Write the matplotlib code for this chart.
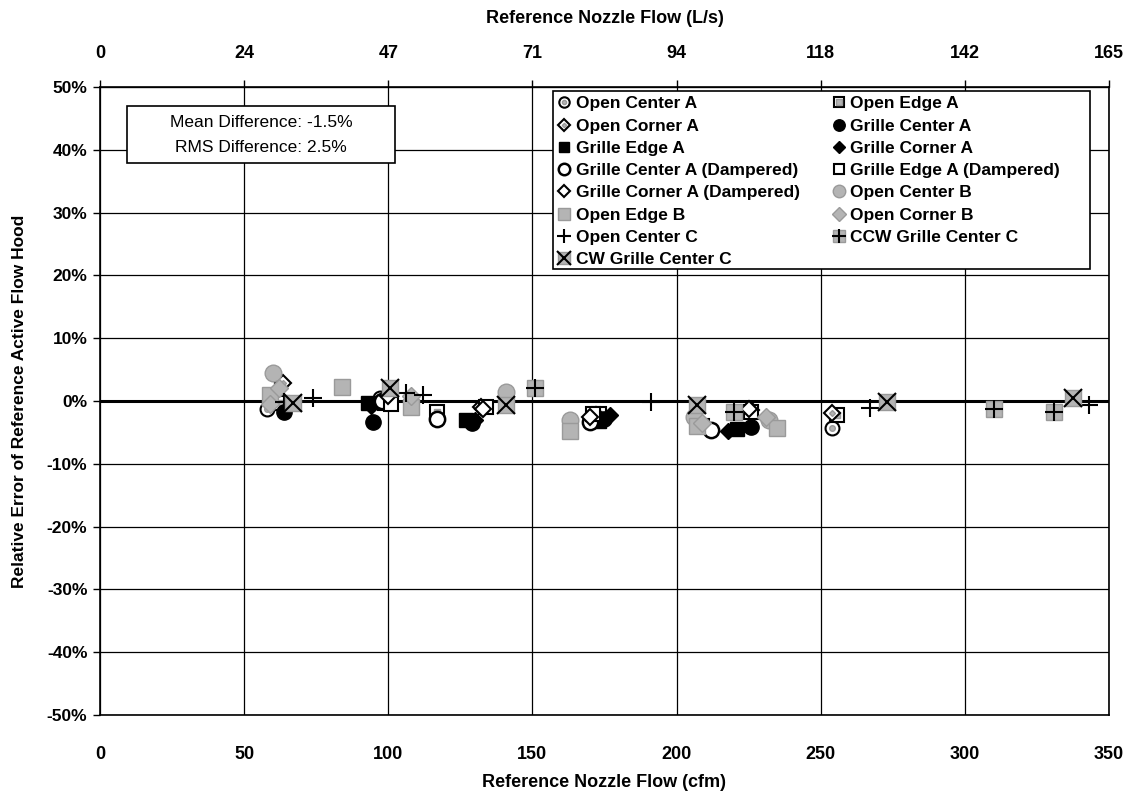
import matplotlib.pyplot as plt
from matplotlib.legend_handler import HandlerTuple
from matplotlib.patches import Rectangle

plt.rcParams['font.family'] = ['Liberation Sans', 'DejaVu Sans']

# x = reference nozzle flow (cfm), y = relative error of the flow hood (%)
open_center_a_x = [58, 97, 117, 170, 254]
open_center_a_y = [-1.2, 0.5, -2.6, -2.8, -4.3]
open_edge_a_x = [63, 99, 117, 173, 209, 255.6]
open_edge_a_y = [-0.3, -0.3, -1.8, -2.0, -4.0, -2.2]
open_corner_a_x = [63.5, 99, 132, 172, 226, 254]
open_corner_a_y = [2.9, 0.5, -1.0, -2.3, -1.4, -1.9]
grille_center_a_x = [64, 94.7, 129, 175, 226]
grille_center_a_y = [-1.8, -3.3, -3.5, -2.8, -4.1]
grille_edge_a_x = [93, 127, 173, 221]
grille_edge_a_y = [-0.3, -3.0, -3.2, -4.5]
grille_corner_a_x = [94, 130, 177, 218]
grille_corner_a_y = [-0.8, -3.0, -2.2, -4.8]
grille_center_a_d_x = [98, 117, 170, 212]
grille_center_a_d_y = [0.0, -2.8, -3.3, -4.6]
grille_edge_a_d_x = [101, 134, 171, 226]
grille_edge_a_d_y = [-0.5, -1.0, -2.0, -1.8]
grille_corner_a_d_x = [100, 133, 170, 225]
grille_corner_a_d_y = [0.8, -1.2, -2.5, -1.2]
open_center_b_x = [60, 141, 163, 206, 232]
open_center_b_y = [4.5, 1.5, -3.0, -2.5, -3.0]
open_edge_b_x = [59, 84, 108, 163, 207, 235]
open_edge_b_y = [1.0, 2.3, -1.0, -4.8, -4.0, -4.3]
open_corner_b_x = [59, 62, 108, 209, 231]
open_corner_b_y = [-0.5, 2.0, 0.8, -3.5, -2.5]
open_center_c_x = [64, 74, 106, 112, 191, 267, 343]
open_center_c_y = [-0.1, 0.5, 1.2, 1.0, -0.1, -1.1, -0.6]
ccw_grille_c_x = [151, 220, 310, 331]
ccw_grille_c_y = [2.0, -1.7, -1.2, -1.8]
cw_grille_c_x = [67, 100.6, 141, 207, 273, 337.5]
cw_grille_c_y = [-0.3, 2.0, -0.6, -0.6, -0.1, 0.5]

labels = ['Open Center A', 'Open Edge A', 'Open Corner A', 'Grille Center A',
          'Grille Edge A', 'Grille Corner A', 'Grille Center A (Dampered)',
          'Grille Edge A (Dampered)', 'Grille Corner A (Dampered)', 'Open Center B',
          'Open Edge B', 'Open Corner B', 'Open Center C', 'CCW Grille Center C',
          'CW Grille Center C']
xs = [open_center_a_x, open_edge_a_x, open_corner_a_x, grille_center_a_x,
      grille_edge_a_x, grille_corner_a_x, grille_center_a_d_x, grille_edge_a_d_x,
      grille_corner_a_d_x, open_center_b_x, open_edge_b_x, open_corner_b_x,
      open_center_c_x, ccw_grille_c_x, cw_grille_c_x]
ys = [open_center_a_y, open_edge_a_y, open_corner_a_y, grille_center_a_y,
      grille_edge_a_y, grille_corner_a_y, grille_center_a_d_y, grille_edge_a_d_y,
      grille_corner_a_d_y, open_center_b_y, open_edge_b_y, open_corner_b_y,
      open_center_c_y, ccw_grille_c_y, cw_grille_c_y]

cfm_ticks = [0, 50, 100, 150, 200, 250, 300, 350]
ls_labels = ['0', '24', '47', '71', '94', '118', '142', '165']
pct_ticks = [-50, -40, -30, -20, -10, 0, 10, 20, 30, 40, 50]

GRAY = '#b4b4b4'
GRAY_E = '#9a9a9a'
open_k = dict(mfc='white', mec='black', mew=1.5)
fill_k = dict(mfc='black', mec='black')
gray_k = dict(mfc=GRAY, mec=GRAY_E, mew=1)

# each series may be drawn as a stack of marker layers
styles = [
    [dict(marker='o', ms=10, **open_k), dict(marker='o', ms=4, **gray_k)],
    [dict(marker='s', ms=10, **open_k), dict(marker='s', ms=5, **gray_k)],
    [dict(marker='D', ms=8, **open_k), dict(marker='D', ms=3, **gray_k)],
    [dict(marker='o', ms=11, **fill_k)],
    [dict(marker='s', ms=10, **fill_k)],
    [dict(marker='D', ms=8.5, **fill_k)],
    [dict(marker='o', ms=11, mfc='white', mec='black', mew=1.8)],
    [dict(marker='s', ms=10, **open_k)],
    [dict(marker='D', ms=8, **open_k)],
    [dict(marker='o', ms=12, **gray_k)],
    [dict(marker='s', ms=11, **gray_k)],
    [dict(marker='D', ms=9, **gray_k)],
    [dict(marker='+', ms=13, mec='black', mew=1.5)],
    [dict(marker='s', ms=12, **gray_k), dict(marker='+', ms=13, mec='black', mew=1.5)],
    [dict(marker='s', ms=12, **gray_k), dict(marker='x', ms=13, mec='black', mew=1.5)],
]

fig = plt.figure(figsize=(11.31, 7.95), dpi=100)
ax = fig.add_axes([0.0884, 0.1006, 0.8921, 0.79])

handles = []
for lab, x, y, layers in zip(labels, xs, ys, styles):
    hs = []
    for lay in layers:
        h, = ax.plot(x, y, ls='none', zorder=3, **lay)
        hs.append(h)
    handles.append(tuple(hs))

ax.axhline(0, color='black', lw=2.2, zorder=2)
ax.set_xlim(0, 350)
ax.set_ylim(-50, 50)
ax.set_xticks(cfm_ticks)
ax.set_yticks(pct_ticks)
ax.set_yticklabels([f'{v}%' for v in pct_ticks])
ax.grid(True, color='black', lw=0.9)
ax.set_axisbelow(True)
for s in ax.spines.values():
    s.set_color('black')
    s.set_linewidth(1.2)

ax.tick_params(axis='x', length=0, pad=22, labelsize=13)
ax.tick_params(axis='y', length=5, width=1, pad=4, labelsize=12.5)
for t in ax.get_xticklabels() + ax.get_yticklabels():
    t.set_fontweight('bold')

ax.set_xlabel('Reference Nozzle Flow (cfm)', fontsize=13, fontweight='bold', labelpad=8)
ax.set_ylabel('Relative Error of Reference Active Flow Hood', fontsize=12.5,
              fontweight='bold', labelpad=14)

top = ax.secondary_xaxis('top')
top.set_xticks(cfm_ticks, labels=ls_labels)
top.tick_params(length=5, width=1, pad=13, labelsize=13)
for t in top.get_xticklabels():
    t.set_fontweight('bold')
top.set_xlabel('Reference Nozzle Flow (L/s)', fontsize=13, fontweight='bold', labelpad=16)

# summary box
ax.add_patch(Rectangle((0.0268, 0.879), 0.2656, 0.0908, transform=ax.transAxes,
                       facecolor='white', edgecolor='black', lw=1.2, zorder=4))
ax.text(0.1596, 0.9427, 'Mean Difference: -1.5%', transform=ax.transAxes,
        ha='center', va='center', fontsize=12.5, zorder=5)
ax.text(0.1596, 0.9029, 'RMS Difference: 2.5%', transform=ax.transAxes,
        ha='center', va='center', fontsize=12.5, zorder=5)

# legend frame drawn separately so it can be wider than its entries
ax.add_patch(Rectangle((0.449, 0.710), 0.532, 0.2834, transform=ax.transAxes,
                       facecolor='white', edgecolor='black', lw=1.2, zorder=5.5))
order = list(range(0, 15, 2)) + list(range(1, 15, 2))
leg = ax.legend([handles[i] for i in order], [labels[i] for i in order], ncol=2,
                loc='upper left', bbox_to_anchor=(0.449, 0.9936),
                borderaxespad=0, frameon=False, markerscale=0.75,
                handlelength=0.7, handletextpad=0.3, labelspacing=0.41,
                borderpad=0.3, columnspacing=1.9,
                prop={'weight': 'bold', 'size': 12.5},
                handler_map={tuple: HandlerTuple(ndivide=1)})
leg.set_zorder(6)

fig.savefig('out.png', dpi=100)
